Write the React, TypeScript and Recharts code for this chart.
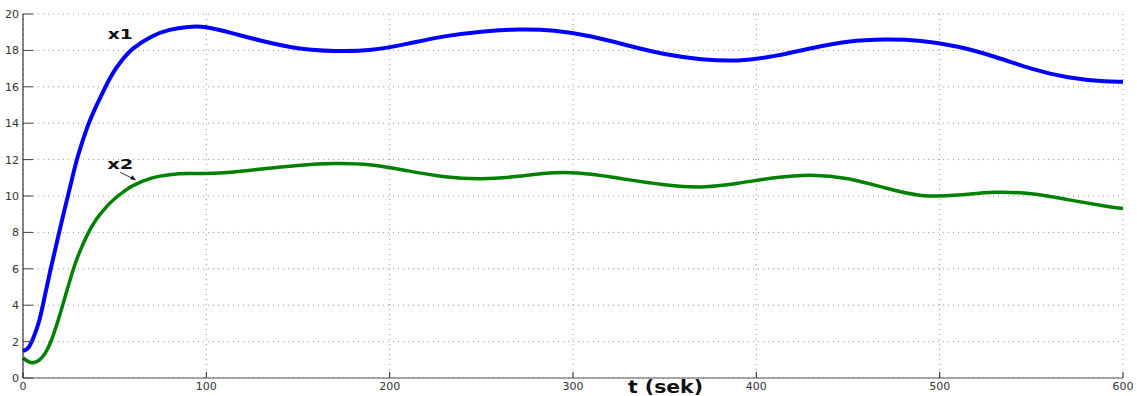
import { LineChart, Line, XAxis, YAxis, CartesianGrid, ReferenceDot } from "recharts";

const time = [0, 3, 6, 9, 12, 15, 18, 21, 24, 27, 30, 35, 40, 45, 50, 55, 60, 70, 80, 90, 100, 115, 130, 150, 170, 190, 210, 230, 250, 270, 290, 310, 330, 350, 370, 390, 410, 430, 450, 470, 490, 510, 530, 550, 570, 590, 600];
const x1 = [1.48, 1.68, 2.3, 3.2, 4.55, 5.95, 7.25, 8.55, 9.8, 11.05, 12.21, 13.76, 14.95, 16.0, 16.9, 17.58, 18.1, 18.75, 19.13, 19.29, 19.27, 18.92, 18.53, 18.12, 17.97, 18.03, 18.37, 18.77, 19.03, 19.15, 19.08, 18.76, 18.27, 17.8, 17.52, 17.45, 17.7, 18.12, 18.48, 18.6, 18.52, 18.2, 17.65, 17.0, 16.53, 16.3, 16.28];
const x2 = [1.1, 0.9, 0.85, 1.0, 1.35, 1.95, 2.8, 3.78, 4.82, 5.83, 6.7, 7.85, 8.72, 9.35, 9.85, 10.24, 10.57, 10.98, 11.17, 11.23, 11.24, 11.32, 11.48, 11.68, 11.78, 11.7, 11.38, 11.06, 10.95, 11.08, 11.28, 11.2, 10.9, 10.62, 10.5, 10.7, 11.0, 11.14, 10.95, 10.45, 10.03, 10.05, 10.2, 10.12, 9.8, 9.45, 9.31];

const xTicks = [0, 100, 200, 300, 400, 500, 600];
const yTicks = [0, 2, 4, 6, 8, 10, 12, 14, 16, 18, 20];

const data = time.map((t, i) => ({ t, x1: x1[i], x2: x2[i] }));

const tickFont = { fontFamily: "DejaVu Sans", fontSize: 11, fill: "#333" };

const BottomTick = ({ x, y, payload }: any) => (
  <g>
    <line x1={x} x2={x} y1={y} y2={y - 6} stroke="#222" />
    <text x={x} y={y + 12} textAnchor="middle" {...tickFont}>{payload.value}</text>
  </g>
);
const TopTick = ({ x, y }: any) => <line x1={x} x2={x} y1={y} y2={y + 6} stroke="#222" />;
const LeftTick = ({ x, y, payload }: any) => (
  <g>
    <line x1={x} x2={x + 10} y1={y} y2={y} stroke="#444" />
    <text x={x - 4} y={y + 4} textAnchor="end" {...tickFont}>{payload.value}</text>
  </g>
);
const RightTick = ({ x, y }: any) => <line x1={x} x2={x - 10} y1={y} y2={y} stroke="#888" />;

const X1Label = ({ cx, cy }: any) => (
  <text x={cx} y={cy} textAnchor="middle" fontFamily="DejaVu Sans" fontWeight="bold" fontSize={14} textLength={25} lengthAdjust="spacingAndGlyphs" fill="#111">x1</text>
);
const X2Label = ({ cx, cy }: any) => (
  <g>
    <text x={cx} y={cy} textAnchor="middle" fontFamily="DejaVu Sans" fontWeight="bold" fontSize={14} textLength={26} lengthAdjust="spacingAndGlyphs" fill="#111">x2</text>
    <line x1={cx} y1={cy + 3} x2={cx + 12} y2={cy + 9} stroke="#333" strokeWidth={1} />
    <polygon points={`${cx + 16},${cy + 11} ${cx + 10},${cy + 10} ${cx + 12},${cy + 6}`} fill="#111" />
  </g>
);

export default function App() {
  return (
    <div style={{ position: "absolute", left: 0, top: 0, background: "#fff" }}>
      <LineChart width={1137} height={396} data={data} margin={{ top: 14, right: 14, bottom: 0, left: 0 }}>
        <CartesianGrid stroke="#999" strokeDasharray="1 4" />
        <XAxis dataKey="t" type="number" domain={[0, 600]} ticks={xTicks} height={18} tickSize={0} tickMargin={0} tickLine={false} axisLine={{ stroke: "#555" }} tick={<BottomTick />} />
        <XAxis xAxisId="top" orientation="top" type="number" domain={[0, 600]} ticks={xTicks} height={0} tickSize={0} tickMargin={0} tickLine={false} axisLine={{ stroke: "#555" }} tick={<TopTick />} />
        <YAxis type="number" domain={[0, 20]} ticks={yTicks} width={23} tickSize={0} tickMargin={0} tickLine={false} axisLine={{ stroke: "#111" }} tick={<LeftTick />} />
        <YAxis yAxisId="right" orientation="right" type="number" domain={[0, 20]} ticks={yTicks} width={0} tickSize={0} tickMargin={0} tickLine={false} axisLine={{ stroke: "#111" }} tick={<RightTick />} />
        <Line dataKey="x1" type="natural" stroke="#0000ff" strokeWidth={4} dot={false} isAnimationActive={false} />
        <Line dataKey="x2" type="natural" stroke="#008000" strokeWidth={3.5} dot={false} isAnimationActive={false} />
        <ReferenceDot x={53} y={18.6} ifOverflow="visible" shape={<X1Label />} />
        <ReferenceDot x={53} y={11.47} ifOverflow="visible" shape={<X2Label />} />
        <text x={628} y={393} fontFamily="DejaVu Sans" fontWeight="bold" fontSize={17} textLength={75} lengthAdjust="spacingAndGlyphs" fill="#111">t (sek)</text>
      </LineChart>
    </div>
  );
}
